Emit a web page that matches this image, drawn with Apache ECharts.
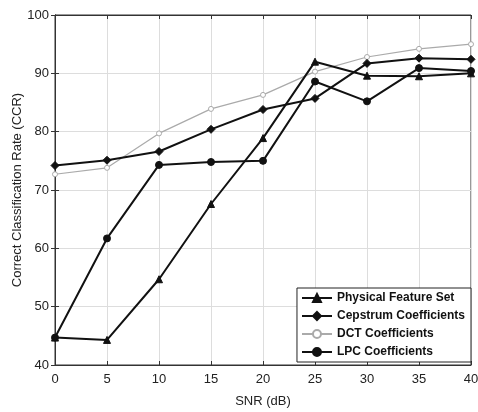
<!DOCTYPE html>
<html>
<head>
<meta charset="utf-8">
<script src="https://cdn.jsdelivr.net/npm/echarts@6/dist/echarts.min.js"></script>
<style>html,body{margin:0;padding:0;background:#fff}#c{width:478px;height:412px}</style>
</head>
<body>
<div id="c"></div>
<script>
const snr = [0, 5, 10, 15, 20, 25, 30, 35, 40];
const physical = [44.7, 44.3, 54.7, 67.6, 78.9, 92.0, 89.6, 89.5, 90.0];
const cepstrum = [74.2, 75.1, 76.6, 80.4, 83.8, 85.7, 91.7, 92.6, 92.4];
const dct = [72.7, 73.8, 79.7, 83.9, 86.3, 90.3, 92.8, 94.2, 95.0];
const lpc = [44.7, 61.7, 74.3, 74.8, 75.0, 88.6, 85.2, 90.9, 90.4];
const names = ['Physical Feature Set', 'Cepstrum Coefficients', 'DCT Coefficients', 'LPC Coefficients'];

const font = 'Liberation Sans, Arial, sans-serif';
const txt = '#222';
function pts(arr){ return snr.map((x,i)=>[x,arr[i]]); }
function ser(name, arr, symbol, size, color, width, fill){
  return {
    name, type:'line', data: pts(arr), symbol, symbolSize:size,
    lineStyle:{color, width}, itemStyle:{color: fill, borderColor:color, borderWidth:1},
    emphasis:{disabled:true}, z: color==='#aaa'?2:3
  };
}
const chart = echarts.init(document.getElementById('c'), null, {renderer:'canvas'});
chart.setOption({
  animation:false,
  backgroundColor:'#fff',
  grid:{left:55, right:7, top:15, bottom:47, outerBoundsMode:'none', containLabel:false, show:true, borderColor:'#333', borderWidth:1, backgroundColor:'transparent'},
  xAxis:[{
    type:'value', min:0, max:40, interval:5,
    name:'SNR (dB)', nameLocation:'middle', nameGap:30,
    nameTextStyle:{fontFamily:font, fontSize:13, color:txt},
    axisLine:{lineStyle:{color:'#333'}},
    axisTick:{inside:true, length:4, lineStyle:{color:'#333'}},
    axisLabel:{fontFamily:font, fontSize:13, color:txt, margin:8},
    splitLine:{show:true, lineStyle:{color:'#ddd', width:1}}
  },{
    type:'value', min:0, max:40, interval:5, position:'top',
    axisLine:{show:true, lineStyle:{color:'#333'}},
    axisTick:{inside:true, length:4, lineStyle:{color:'#333'}},
    axisLabel:{show:false}, splitLine:{show:false}
  }],
  yAxis:[{
    type:'value', min:40, max:100, interval:10,
    name:'Correct Classification Rate (CCR)', nameLocation:'middle', nameGap:31, nameMoveOverlap:false,
    nameTextStyle:{fontFamily:font, fontSize:13, color:txt},
    axisLine:{show:true, lineStyle:{color:'#333'}},
    axisTick:{show:true, inside:true, length:4, lineStyle:{color:'#333'}},
    axisLabel:{fontFamily:font, fontSize:13, color:txt, margin:6},
    splitLine:{show:true, lineStyle:{color:'#ddd', width:1}}
  },{
    type:'value', min:40, max:100, interval:10, position:'right',
    axisLine:{show:true, lineStyle:{color:'#333'}},
    axisTick:{show:true, inside:true, length:4, lineStyle:{color:'#333'}},
    axisLabel:{show:false}, splitLine:{show:false}
  }],
  legend:{
    orient:'vertical', right:7, bottom:50,
    data:names,
    backgroundColor:'#fff', borderColor:'#222', borderWidth:1,
    padding:[4,6,4,4], itemGap:6, itemWidth:30, itemHeight:10,
    textStyle:{fontFamily:font, fontSize:12, fontWeight:'bold', color:'#111'}
  },
  series:[
    ser(names[0], physical, 'triangle', 7, '#111', 2, '#111'),
    ser(names[1], cepstrum, 'diamond', 8, '#111', 2, '#111'),
    ser(names[2], dct, 'circle', 5, '#aaa', 1.2, '#fff'),
    ser(names[3], lpc, 'circle', 7, '#111', 2, '#111')
  ]
});
</script>
</body>
</html>
